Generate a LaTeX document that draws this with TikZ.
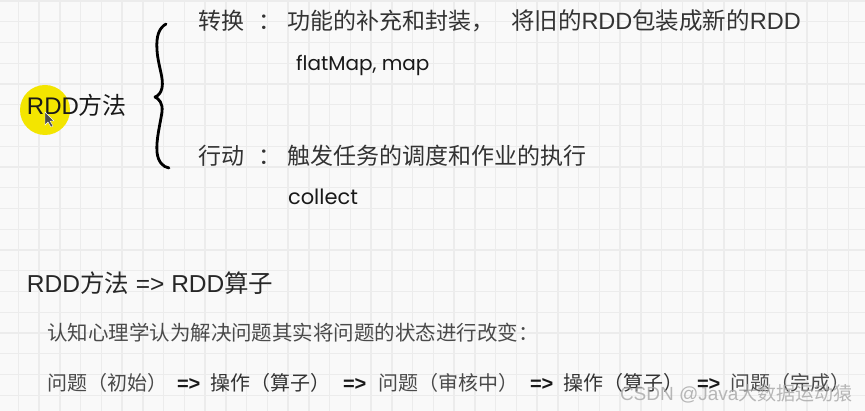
\documentclass[tikz,border=0pt]{standalone}
\usepackage{fontspec}
\setmainfont{Liberation Sans}
\newfontfamily\cjk{Noto Sans CJK SC}
\newfontfamily\rnd{Poppins}
\definecolor{bgc}{HTML}{F9F9F9}
\definecolor{gridc}{HTML}{ECECEC}
\definecolor{hilite}{HTML}{F3E500}
\definecolor{txt}{HTML}{333333}
\definecolor{txtl}{HTML}{4A4A4A}
\begin{document}
\begin{tikzpicture}[x=1pt,y=-1pt,
  every node/.style={inner sep=0pt,outer sep=0pt,anchor=base west},
  gridline/.style={draw=gridc,line width=1.4pt},
  bigtxt/.style={font=\fontsize{24}{28}\selectfont,text=txt},
  roundtxt/.style={font=\rnd\fontsize{20}{24}\selectfont,text=black!90},
  midtxt/.style={font=\fontsize{24.5}{28}\selectfont,text=black!85},
  smalltxt/.style={font=\cjk\fontsize{20}{24}\selectfont,text=txtl},
  arrowtxt/.style={font=\bfseries\fontsize{20}{24}\selectfont,text=black!90},
  bracestyle/.style={draw=black,line width=2.8pt,line cap=round,line join=round},
  wmark/.style={font=\fontsize{19}{22}\selectfont,text=gray!70,opacity=0.8}]
\useasboundingbox (0,0) rectangle (865,411);
\fill[bgc] (0,0) rectangle (865,411);
\foreach \i in {0,...,41} \draw[gridline] ({18.3+20.75*\i},0) -- ++(0,411);
\foreach \j in {0,...,19} \draw[gridline] (0,{1+20.75*\j}) -- ++(865,0);

% highlight and cursor
\fill[hilite] (45,110) circle (25);
\node[bigtxt,text=black!90] (rdd) at (27,115) {RDD{\cjk 方法}};
\fill[black!70,draw=white,line width=0.4pt] (45,112) -- (45,125) -- (48,122) -- (51,127) -- (53,126) -- (50,121) -- (54,121) -- cycle;

% brace
\draw[bracestyle] (166,24) .. controls (159,28) and (156,36) .. (157,50)
  .. controls (158,66) and (164,78) .. (162,88)
  .. controls (161,93) and (158,96) .. (155,97)
  .. controls (159,99) and (163,103) .. (162,112)
  .. controls (160,125) and (156,140) .. (157,152)
  .. controls (158,162) and (163,167) .. (169,168);

% top branch
\node[bigtxt,font=\cjk\fontsize{23}{27}\selectfont] (zh) at (198,30) {转换};
\node[bigtxt,font=\cjk\fontsize{23}{27}\selectfont] (c1) at (258,30) {：};
\node[bigtxt,font=\cjk\fontsize{23}{27}\selectfont] (d1) at (287,30) {功能的补充和封装，};
\node[bigtxt,font=\fontsize{23.5}{27}\selectfont] (d1b) at (511,30) {{\cjk 将旧的}RDD{\cjk 包装成新的}RDD};
\node[roundtxt] (ex1) at (296,71) {flatMap, map};

% bottom branch
\node[bigtxt,font=\cjk\fontsize{23}{27}\selectfont] (xd) at (198,165) {行动};
\node[bigtxt,font=\cjk\fontsize{23}{27}\selectfont] (c2) at (258,165) {：};
\node[bigtxt,font=\cjk\fontsize{23}{27}\selectfont] (d2) at (287,165) {触发任务的调度和作业的执行};
\node[roundtxt,font=\rnd\fontsize{21}{24}\selectfont] (ex2) at (288,205) {collect};

% lower text
\node[midtxt] (eq) at (27,293) {RDD{\cjk 方法} => RDD{\cjk 算子}};
\node[smalltxt,font=\cjk\fontsize{20.5}{24}\selectfont] (psy) at (47,341) {认知心理学认为解决问题其实将问题的状态进行改变：};

\node[smalltxt] (s1) at (47,391) {问题（初始）};
\node[arrowtxt] (a1) at (177,391) {=>};
\node[smalltxt,text=txt] (s2) at (210,391) {操作（算子）};
\node[arrowtxt] (a2) at (343,391) {=>};
\node[smalltxt] (s3) at (378,391) {问题（审核中）};
\node[arrowtxt] (a3) at (530,391) {=>};
\node[smalltxt,text=txt] (s4) at (563,391) {操作（算子）};
\node[arrowtxt] (a4) at (697,391) {=>};
\node[smalltxt] (s5) at (730,391) {问题（完成）};

% watermark
\node[wmark] (wm) at (620,401) {CSDN @Java{\cjk 大数据运动猿}};
\end{tikzpicture}
\end{document}
